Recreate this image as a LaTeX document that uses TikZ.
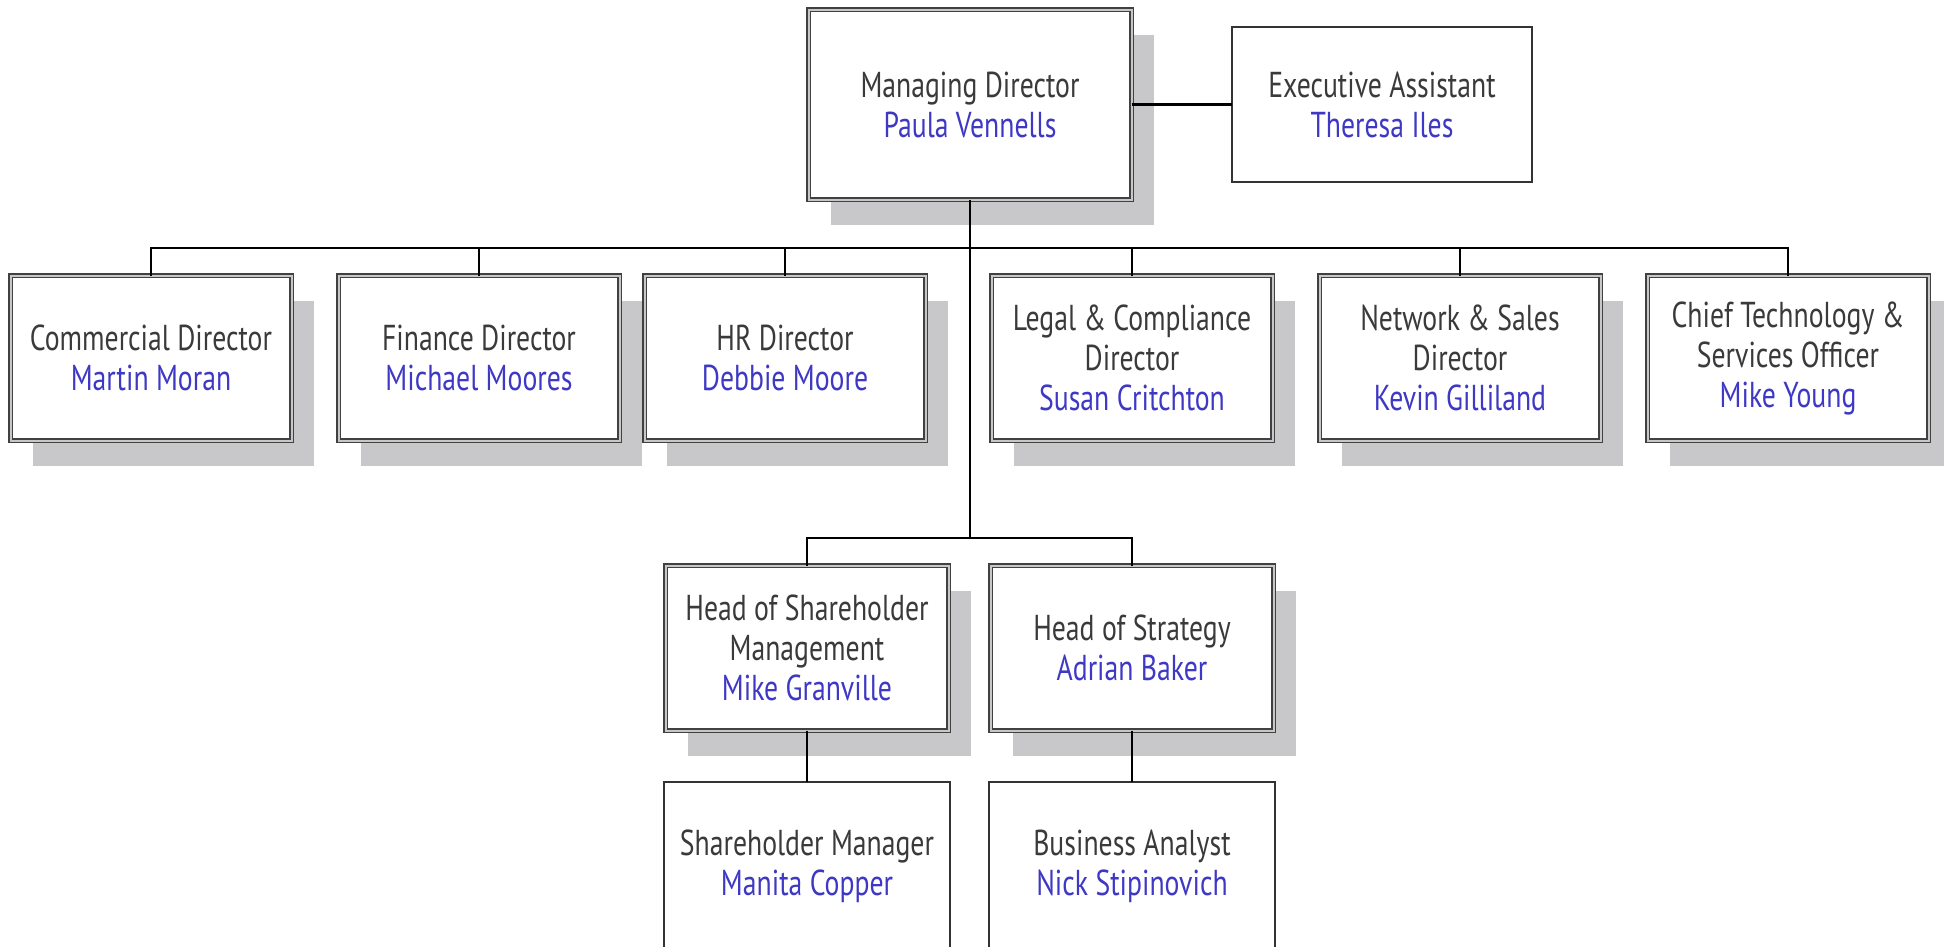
\documentclass[tikz,border=0pt]{standalone}
\usepackage{fontspec}
\setmainfont[FakeStretch=0.77]{PT Sans}
\usetikzlibrary{shadows}
\definecolor{titlegray}{RGB}{58,58,58}
\definecolor{nameblue}{RGB}{62,56,196}
\definecolor{shadowgray}{RGB}{200,200,203}
\definecolor{boxline}{RGB}{65,65,65}
\tikzset{
  txt/.style={font=\fontsize{36}{40}\selectfont, text=titlegray, align=center,
    inner sep=0pt, outer sep=0pt},
  dbox/.style={txt, draw=boxline, line width=1.5pt, double=black!22,
    double distance=2pt, fill=white,
    drop shadow={fill=shadowgray, opacity=1, shadow xshift=22pt, shadow yshift=-25pt}},
  sbox/.style={txt, draw=black!80, line width=2pt, fill=white},
  rowbox/.style={dbox, minimum width=281pt, minimum height=165pt},
  lowbox/.style={sbox, minimum width=286pt, minimum height=168pt},
  conn/.style={line width=2.6pt, black},
}
\newcommand{\nm}[1]{\textcolor{nameblue}{#1}}
\begin{document}
\begin{tikzpicture}[x=1pt, y=-1pt]
\useasboundingbox (0,0) rectangle (1944,946);
\fill[white] (0,0) rectangle (1944,946);
\begin{scope}
\clip (0,0) rectangle (1944,946);
% top level
\node[dbox, minimum width=323pt, minimum height=190pt] (md) at (970,104.5)
  {Managing Director\\\nm{Paula Vennells}};
\node[sbox, minimum width=300pt, minimum height=155pt] (ea) at (1382,104.5)
  {Executive Assistant\\\nm{Theresa Iles}};
% directors row
\node[rowbox] (com) at (151,358) {Commercial Director\\\nm{Martin Moran}};
\node[rowbox] (fin) at (479,358) {Finance Director\\\nm{Michael Moores}};
\node[rowbox] (hr)  at (785,358) {HR Director\\\nm{Debbie Moore}};
\node[rowbox] (leg) at (1132,358) {Legal \& Compliance\\Director\\\nm{Susan Critchton}};
\node[rowbox] (net) at (1460,358) {Network \& Sales\\Director\\\nm{Kevin Gilliland}};
\node[rowbox] (cto) at (1788,358) {Chief Technology \&\\Services Officer\\\nm{Mike Young}};
% heads row
\node[rowbox, minimum width=283pt] (hsm) at (807,648) {Head of Shareholder\\Management\\\nm{Mike Granville}};
\node[rowbox, minimum width=283pt] (hos) at (1132,648) {Head of Strategy\\\nm{Adrian Baker}};
% bottom row
\node[lowbox] (sm) at (807,866) {Shareholder Manager\\\nm{Manita Copper}};
\node[lowbox] (ba) at (1132,866) {Business Analyst\\\nm{Nick Stipinovich}};
% junctions
\coordinate (bus) at (970,248);
\coordinate (bus2) at (970,538);
% connectors
\draw[conn] (md.east) -- (ea.west);
\draw[conn] (md.south) -- (bus2);
\draw[conn] (com.north) |- (bus) -| (cto.north);
\draw[conn] (fin.north) -- (fin.north |- bus);
\draw[conn] (hr.north) -- (hr.north |- bus);
\draw[conn] (leg.north) -- (leg.north |- bus);
\draw[conn] (net.north) -- (net.north |- bus);
\draw[conn] (hsm.north) |- (bus2) -| (hos.north);
\draw[conn] (hsm.south) -- (sm.north);
\draw[conn] (hos.south) -- (ba.north);
\end{scope}
\end{tikzpicture}
\end{document}
